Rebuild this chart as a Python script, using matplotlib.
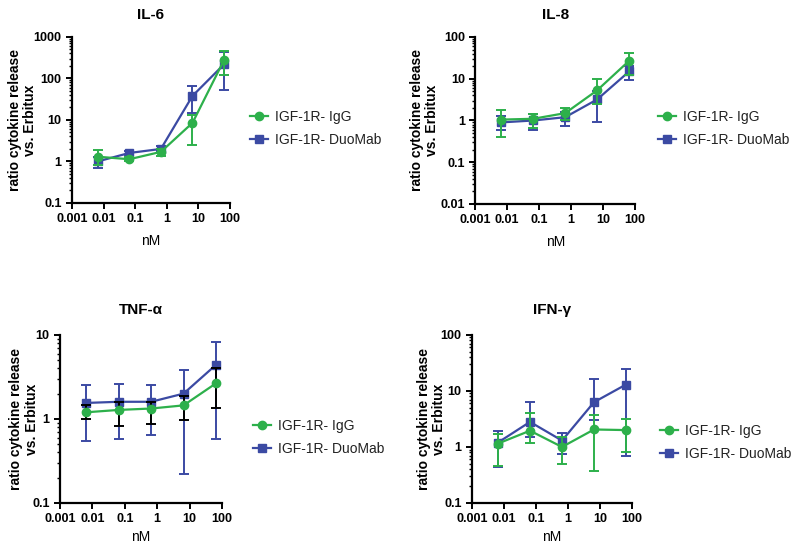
import matplotlib
matplotlib.use("Agg")
import matplotlib.pyplot as plt
import numpy as np
from matplotlib.lines import Line2D
from matplotlib.ticker import LogLocator, NullFormatter, FixedLocator, FixedFormatter

plt.rcParams['font.family'] = ['Liberation Sans', 'DejaVu Sans']

conc = [0.0065, 0.065, 0.65, 6.5, 65]

# IL-6
il6_igg = [1.3, 1.13, 1.7, 8.5, 280]
il6_igg_lo = [0.8, 1.0, 1.35, 2.5, 120]
il6_igg_hi = [1.9, 1.25, 2.0, 13, 450]
il6_duo = [1.0, 1.6, 2.0, 38, 220]
il6_duo_lo = [0.7, 1.45, 1.8, 15, 52]
il6_duo_hi = [1.3, 1.75, 2.3, 65, 430]

# IL-8
il8_igg = [1.05, 1.1, 1.5, 5.3, 27]
il8_igg_lo = [0.4, 0.65, 1.0, 2.5, 12]
il8_igg_hi = [1.75, 1.4, 2.0, 10, 42]
il8_duo = [0.9, 1.0, 1.2, 3.2, 15]
il8_duo_lo = [0.6, 0.6, 0.75, 0.9, 9.5]
il8_duo_hi = [1.3, 1.45, 1.6, 5.0, 20]

# TNF-alpha
tnf_igg = [1.2, 1.28, 1.33, 1.45, 2.65]
tnf_igg_lo = [1.0, 0.82, 0.87, 0.97, 1.35]
tnf_igg_hi = [1.45, 1.6, 1.6, 1.9, 4.0]
tnf_duo = [1.55, 1.6, 1.6, 2.0, 4.4]
tnf_duo_lo = [0.55, 0.58, 0.64, 0.22, 0.58]
tnf_duo_hi = [2.55, 2.6, 2.5, 3.8, 8.3]

# IFN-gamma
ifn_igg = [1.15, 1.95, 1.0, 2.05, 2.0]
ifn_igg_lo = [0.45, 1.2, 0.5, 0.37, 0.8]
ifn_igg_hi = [1.7, 4.0, 1.5, 3.7, 3.2]
ifn_duo = [1.2, 2.8, 1.3, 6.3, 13]
ifn_duo_lo = [0.43, 1.5, 0.75, 3.0, 0.7]
ifn_duo_hi = [1.9, 6.4, 1.8, 16.5, 25]

titles = ["IL-6", "IL-8", "TNF-\u03b1", "IFN-\u03b3"]
labels = ["IGF-1R- IgG", "IGF-1R- DuoMab"]
green = "#2db04b"
blue = "#3b4aa3"

fig = plt.figure(figsize=(8, 5.44), dpi=100)

panels = [
    dict(pos=[0.09, 0.627, 0.1975, 0.305], title=titles[0], ylim=(0.1, 1000),
         yt=[0.1, 1, 10, 100, 1000], ytl=["0.1", "1", "10", "100", "1000"],
         igg=(il6_igg, il6_igg_lo, il6_igg_hi), duo=(il6_duo, il6_duo_lo, il6_duo_hi),
         leg=(1.047, 0.45), ylx=-0.22, iggerr=green, tpad=13, xpad=6),
    dict(pos=[0.594, 0.625, 0.2, 0.307], title=titles[1], ylim=(0.01, 100),
         yt=[0.01, 0.1, 1, 10, 100], ytl=["0.01", "0.1", "1", "10", "100"],
         igg=(il8_igg, il8_igg_lo, il8_igg_hi), duo=(il8_duo, il8_duo_lo, il8_duo_hi),
         leg=(1.066, 0.45), ylx=-0.225, iggerr=green, tpad=13, xpad=6),
    dict(pos=[0.075, 0.0754, 0.2025, 0.309], title=titles[2], ylim=(0.1, 10),
         yt=[0.1, 1, 10], ytl=["0.1", "1", "10"],
         igg=(tnf_igg, tnf_igg_lo, tnf_igg_hi), duo=(tnf_duo, tnf_duo_lo, tnf_duo_hi),
         leg=(1.115, 0.39), ylx=-0.13, iggerr="black", tpad=15, xpad=3),
    dict(pos=[0.59, 0.0754, 0.2, 0.309], title=titles[3], ylim=(0.1, 100),
         yt=[0.1, 1, 10, 100], ytl=["0.1", "1", "10", "100"],
         igg=(ifn_igg, ifn_igg_lo, ifn_igg_hi), duo=(ifn_duo, ifn_duo_lo, ifn_duo_hi),
         leg=(1.095, 0.36), ylx=-0.16, iggerr=green, tpad=15, xpad=3),
]

xt = [0.001, 0.01, 0.1, 1, 10, 100]
xtl = ["0.001", "0.01", "0.1", "1", "10", "100"]

for p in panels:
    ax = fig.add_axes(p['pos'])
    ax.set_xscale('log')
    ax.set_yscale('log')
    ax.set_xlim(0.001, 100)
    ax.set_ylim(*p['ylim'])
    y, lo, hi = p['duo']
    y = np.array(y); lo = np.array(lo); hi = np.array(hi)
    ax.errorbar(conc, y, yerr=[y - lo, hi - y], color=blue, ecolor=blue, marker='s',
                markersize=6, lw=1.6, elinewidth=1.4, capsize=3.5, capthick=1.4,
                zorder=3, clip_on=False)
    y, lo, hi = p['igg']
    y = np.array(y); lo = np.array(lo); hi = np.array(hi)
    ax.errorbar(conc, y, yerr=[y - lo, hi - y], color=green, ecolor=p['iggerr'], marker='o',
                markersize=6, lw=1.6, elinewidth=1.4, capsize=3.5, capthick=1.4,
                zorder=4, clip_on=False)
    for s in ['top', 'right']:
        ax.spines[s].set_visible(False)
    for s in ['left', 'bottom']:
        ax.spines[s].set_linewidth(1.6)
    ax.xaxis.set_major_locator(FixedLocator(xt))
    ax.xaxis.set_major_formatter(FixedFormatter(xtl))
    ax.xaxis.set_minor_locator(LogLocator(base=10, subs=np.arange(2, 10)))
    ax.xaxis.set_minor_formatter(NullFormatter())
    ax.yaxis.set_major_locator(FixedLocator(p['yt']))
    ax.yaxis.set_major_formatter(FixedFormatter(p['ytl']))
    ax.yaxis.set_minor_locator(LogLocator(base=10, subs=np.arange(2, 10)))
    ax.yaxis.set_minor_formatter(NullFormatter())
    ax.tick_params(which='major', length=4.5, width=1.4, labelsize=9, pad=3)
    ax.tick_params(which='minor', length=2.2, width=1.0)
    for t in ax.get_xticklabels() + ax.get_yticklabels():
        t.set_fontweight('bold')
    ax.set_title(p['title'], fontsize=11, fontweight='bold', pad=p['tpad'])
    ax.set_xlabel("nM", fontsize=10, labelpad=p['xpad'])
    ax.set_ylabel("ratio cytokine release\nvs. Erbitux", fontsize=10, fontweight='bold',
                  linespacing=1.15)
    ax.yaxis.set_label_coords(p['ylx'], 0.5)
    handles = [
        Line2D([], [], color=green, marker='o', markersize=6, lw=1.6),
        Line2D([], [], color=blue, marker='s', markersize=6, lw=1.6),
    ]
    leg = ax.legend(handles, labels, loc='center left',
                    bbox_to_anchor=p['leg'], frameon=False, fontsize=10,
                    handlelength=1.3, handletextpad=0.5, labelspacing=0.65)
    for t in leg.get_texts():
        t.set_color('#222222')

fig.savefig("out.png", dpi=100)
